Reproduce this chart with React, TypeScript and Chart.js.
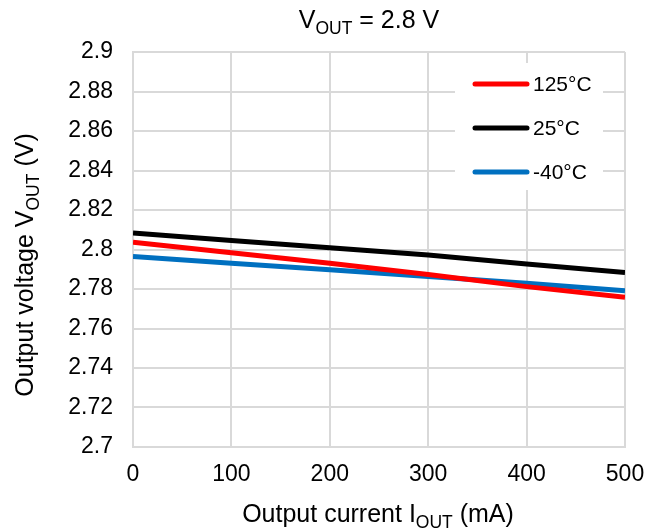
import React, { useEffect, useRef } from "react";
import { Chart, registerables } from "chart.js";

Chart.register(...registerables);

const currents = [0, 100, 200, 300, 400, 500];
const v125 = [2.8037, 2.7984, 2.793, 2.7873, 2.7812, 2.7758];
const v25 = [2.8083, 2.8045, 2.8009, 2.7972, 2.7927, 2.7883];
const vm40 = [2.7964, 2.793, 2.7897, 2.7863, 2.7829, 2.7791];
const seriesLabels = ["125°C", "25°C", "-40°C"];
const seriesColors = ["#FF0000", "#000000", "#0070C0"];

const FONT = '"Liberation Sans", Arial, sans-serif';

type Part = { t: string; sub?: boolean };

function drawRich(
  ctx: CanvasRenderingContext2D,
  parts: Part[],
  x: number,
  y: number,
  size: number
) {
  const subSize = size * 0.7;
  let total = 0;
  const widths = parts.map((p) => {
    ctx.font = `${p.sub ? subSize : size}px ${FONT}`;
    const w = ctx.measureText(p.t).width;
    total += w;
    return w;
  });
  let cx = x - total / 2;
  ctx.textAlign = "left";
  ctx.textBaseline = "alphabetic";
  ctx.fillStyle = "#000";
  parts.forEach((p, i) => {
    ctx.font = `${p.sub ? subSize : size}px ${FONT}`;
    ctx.fillText(p.t, cx, p.sub ? y + size * 0.22 : y);
    cx += widths[i];
  });
}

const decorPlugin = {
  id: "decor",
  afterDraw(chart: any) {
    const ctx: CanvasRenderingContext2D = chart.ctx;
    ctx.save();
    // title
    drawRich(ctx, [{ t: "V" }, { t: "OUT", sub: true }, { t: " = 2.8 V" }], 369, 28, 25);
    // x title
    drawRich(
      ctx,
      [{ t: "Output current I" }, { t: "OUT", sub: true }, { t: " (mA)" }],
      378,
      522,
      25
    );
    // y title
    ctx.save();
    ctx.translate(33, 265);
    ctx.rotate(-Math.PI / 2);
    drawRich(
      ctx,
      [{ t: "Output voltage V" }, { t: "OUT", sub: true }, { t: " (V)" }],
      0,
      0,
      25
    );
    ctx.restore();
    // legend
    ctx.fillStyle = "#FFFFFF";
    ctx.fillRect(455, 63, 148, 127);
    chart.data.datasets.forEach((ds: any, i: number) => {
      const y = 84 + i * 44;
      ctx.beginPath();
      ctx.strokeStyle = ds.borderColor;
      ctx.lineWidth = 5;
      ctx.lineCap = "round";
      ctx.moveTo(475, y);
      ctx.lineTo(527, y);
      ctx.stroke();
      ctx.fillStyle = "#000";
      ctx.font = `21px ${FONT}`;
      ctx.textAlign = "left";
      ctx.textBaseline = "middle";
      ctx.fillText(ds.label, 533, y + 1);
    });
    ctx.restore();
  },
};

export default function App() {
  const ref = useRef<HTMLCanvasElement>(null);
  useEffect(() => {
    document.body.style.margin = "0";
    const mk = (vals: number[]) => currents.map((x, i) => ({ x, y: vals[i] }));
    const all = [v125, v25, vm40];
    const chart = new Chart(ref.current!, {
      type: "line",
      data: {
        datasets: all.map((vals, i) => ({
          label: seriesLabels[i],
          data: mk(vals),
          borderColor: seriesColors[i],
          backgroundColor: seriesColors[i],
          borderWidth: 5,
          pointRadius: 0,
          tension: 0,
          borderCapStyle: "butt",
          borderJoinStyle: "round",
        })),
      },
      options: {
        responsive: false,
        animation: false,
        layout: { padding: { top: 52, right: 21, left: 0, bottom: 0 } },
        plugins: { legend: { display: false }, title: { display: false }, tooltip: { enabled: false } },
        scales: {
          x: {
            type: "linear",
            min: 0,
            max: 500,
            ticks: {
              stepSize: 100,
              padding: 14,
              color: "#000",
              font: { family: FONT, size: 23 },
              maxRotation: 0,
            },
            grid: { color: "#D9D9D9", lineWidth: 2, drawTicks: false },
            border: { color: "#D9D9D9", width: 2 },
            afterFit: (s: any) => {
              s.height = 83;
              s.paddingLeft = 0;
              s.paddingRight = 0;
            },
          },
          y: {
            min: 2.7,
            max: 2.9,
            ticks: {
              stepSize: 0.02,
              padding: 20,
              color: "#000",
              font: { family: FONT, size: 23 },
              callback: (v: any) => String(Number(Number(v).toFixed(2))),
            },
            grid: { color: "#D9D9D9", lineWidth: 2, drawTicks: false },
            border: { color: "#D9D9D9", width: 2 },
            afterFit: (s: any) => {
              s.width = 133;
              s.paddingTop = 0;
              s.paddingBottom = 0;
            },
          },
        },
      },
      plugins: [decorPlugin],
    } as any);
    return () => chart.destroy();
  }, []);
  return (
    <div style={{ position: "absolute", left: 0, top: 0, width: 646, height: 530, background: "#fff" }}>
      <canvas ref={ref} width={646} height={530} />
    </div>
  );
}
